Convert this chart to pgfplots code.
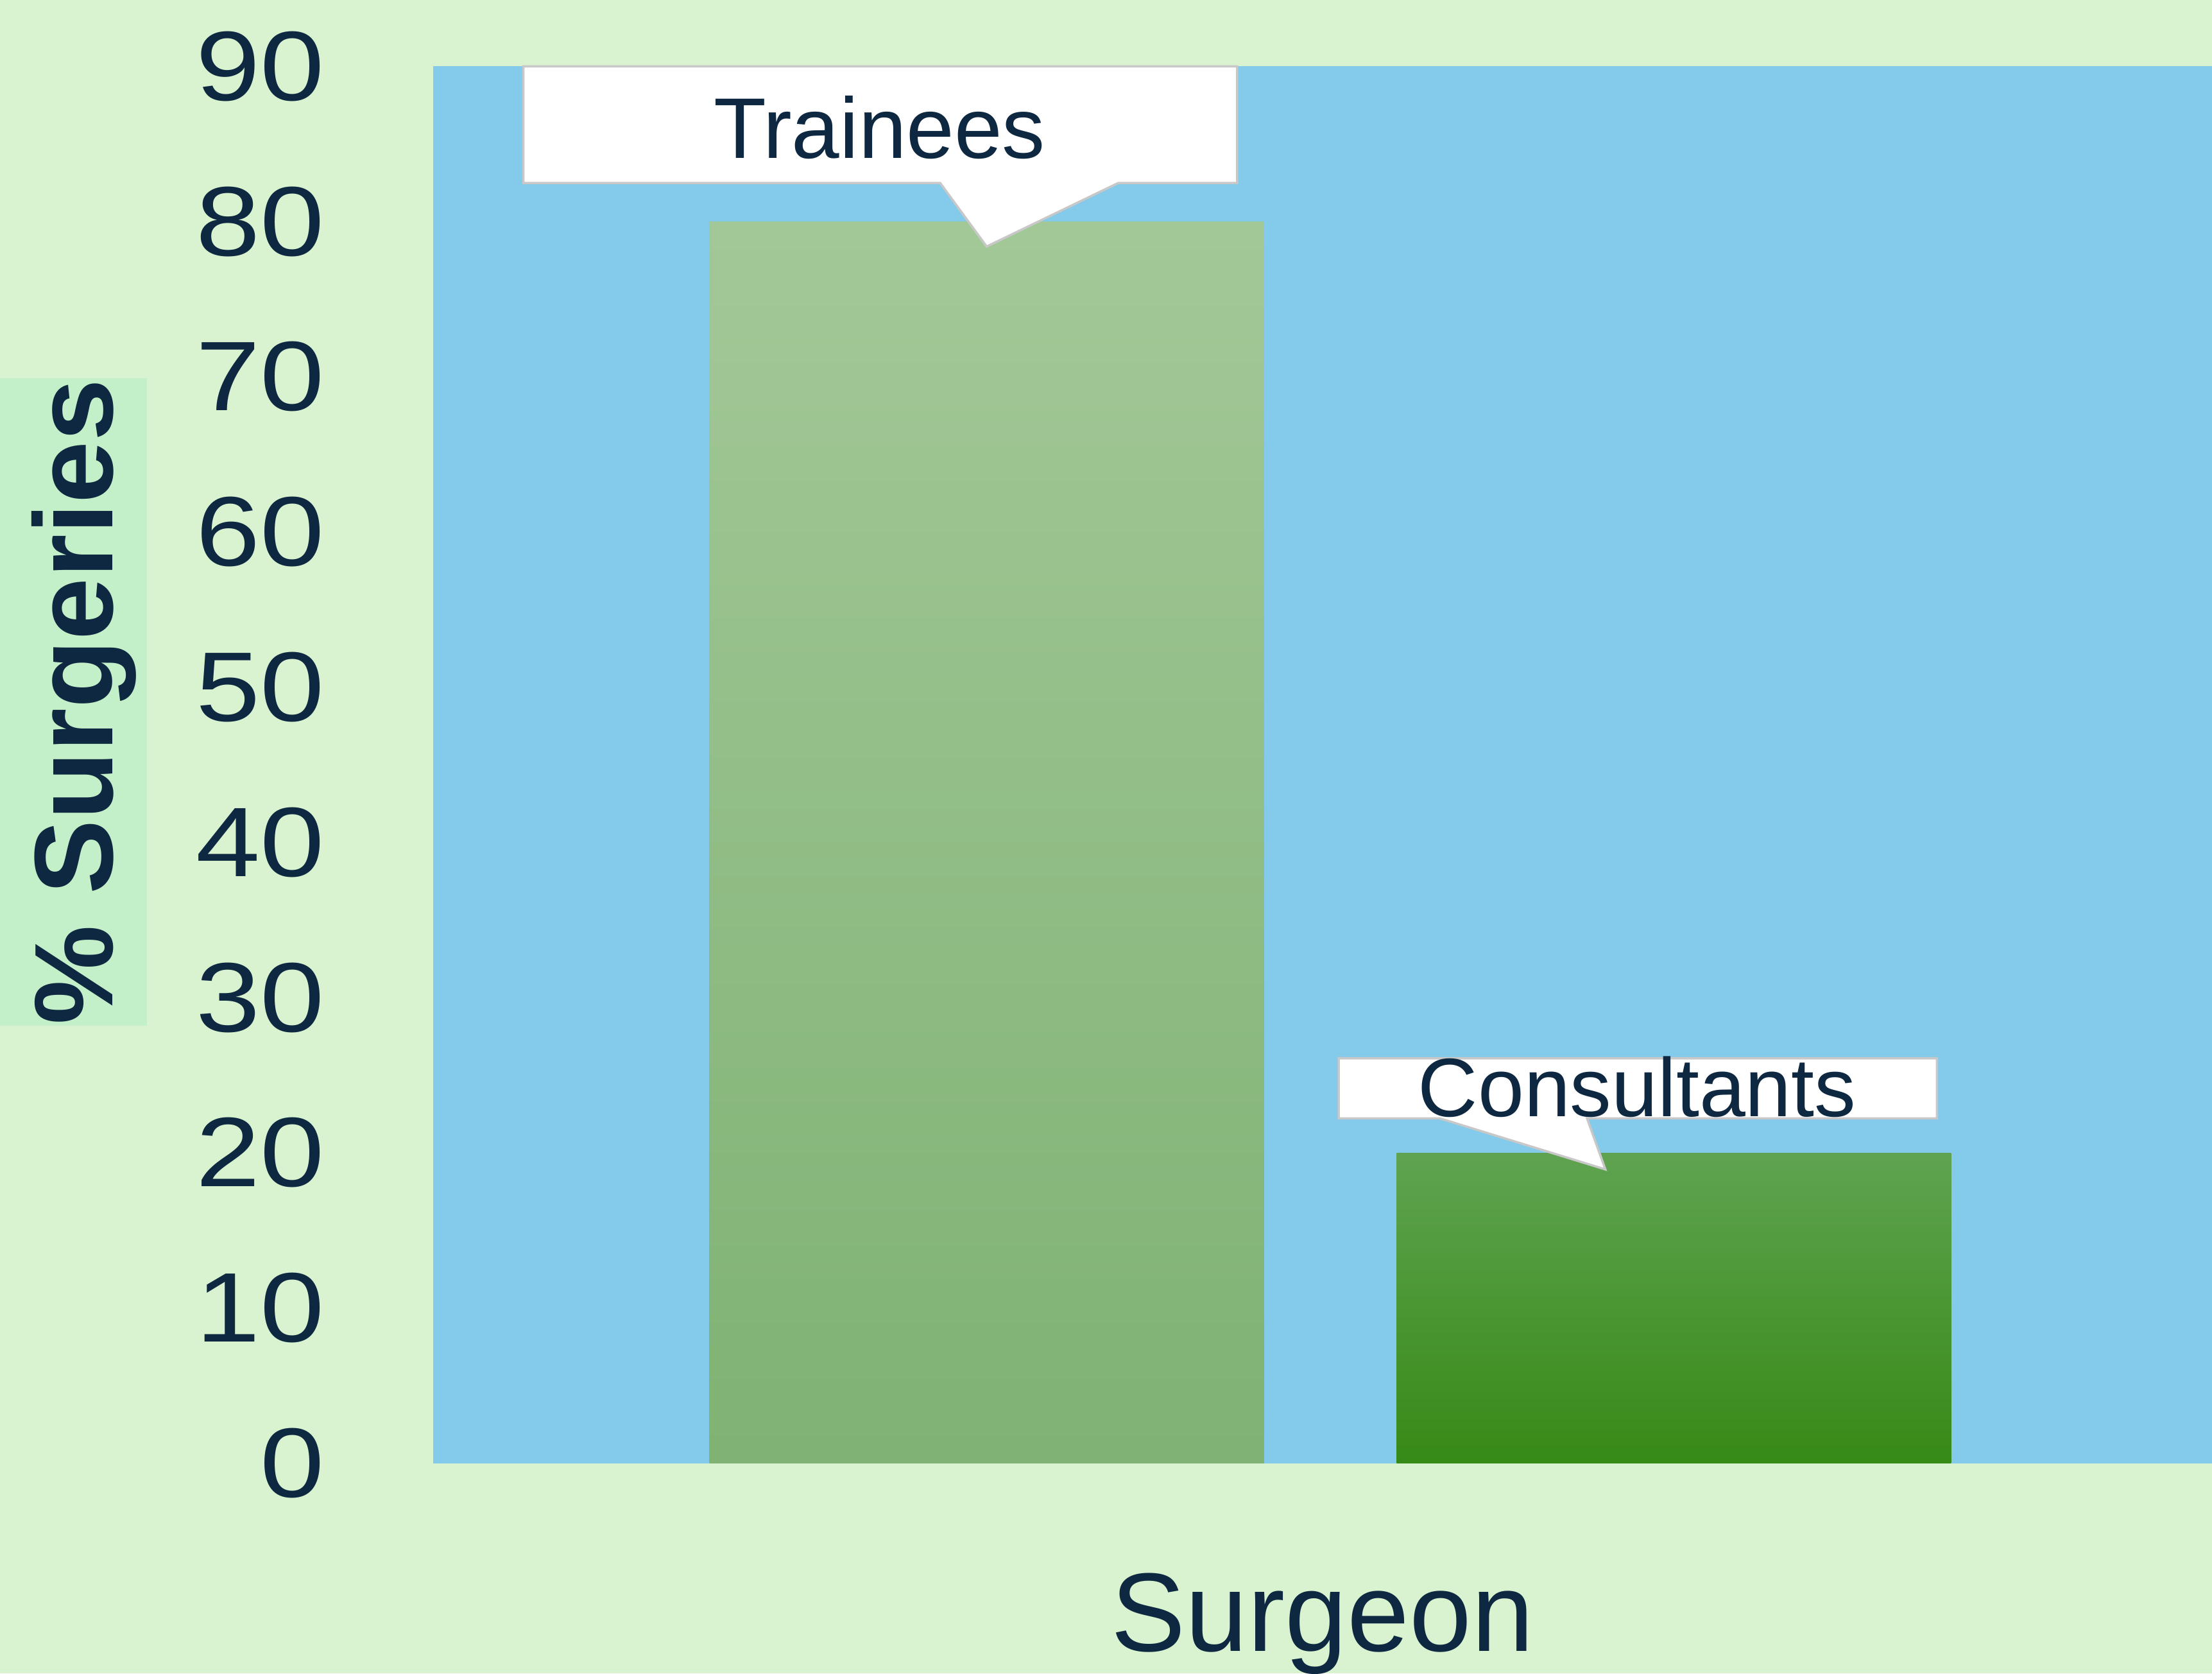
\documentclass[border=0pt]{standalone}
\usepackage{fontspec}
\setmainfont{Liberation Sans}
\newfontfamily\tickfont[FakeStretch=1.17]{Liberation Sans}
\usepackage{pgfplots}
\pgfplotsset{compat=1.18}
\definecolor{bgc}{HTML}{D9F3D0}
\definecolor{plotc}{HTML}{83CAEB}
\definecolor{txtc}{HTML}{0E2841}
\definecolor{ylabc}{HTML}{C4F0C9}
\definecolor{trtop}{HTML}{A3C898}
\definecolor{trbot}{HTML}{7FB273}
\definecolor{cotop}{HTML}{5FA350}
\definecolor{comid}{HTML}{42982A}
\definecolor{cobot}{HTML}{368A16}
\definecolor{callb}{HTML}{C8C8C8}
\begin{document}
\begin{tikzpicture}
\fill[bgc,use as bounding box] (-76.75pt,-37.25pt) rectangle (315.25pt,259.25pt);
\begin{axis}[
  at={(0,0)}, anchor=south west,
  scale only axis, width=315.25pt, height=247.5pt,
  xmin=0, xmax=1261, ymin=0, ymax=90,
  clip=false,
  axis background/.style={fill=plotc},
  axis line style={draw=none},
  major tick length=0pt,
  xtick=\empty,
  ytick={0,10,...,90},
  /pgf/number format/assume math mode=true,
  yticklabel style={font=\tickfont\fontsize{17.5}{20}\selectfont, text=txtc, anchor=east, inner sep=0pt, xshift=-19pt},
  ylabel={\% Surgeries},
  ylabel style={at={(axis description cs:-0.2022,0.545)}, anchor=center, rotate=0,
    font=\bfseries\fontsize{19.8}{24}\selectfont, text=txtc, fill=ylabc,
    minimum width=114.75pt, minimum height=26pt, inner sep=0pt,
    text height=17.8pt, text depth=4pt},
  xlabel={Surgeon},
  xlabel style={at={(axis description cs:0.5,0)}, anchor=base, yshift=-33.25pt,
    font=\fontsize{19.8}{23}\selectfont, text=txtc},
]
\addplot[ybar, bar width=393, bar shift=0pt, draw=none, top color=trtop, bottom color=trbot] coordinates {(392.5,80)};
\addplot[ybar, bar width=393, bar shift=0pt, draw=none, top color=cotop, middle color=comid, bottom color=cobot] coordinates {(879.5,20)};
% callouts
\draw[fill=white, draw=callb, line width=0.4pt]
  (axis cs:64,90) -- (axis cs:570,90) -- (axis cs:570,82.48) -- (axis cs:485.6,82.48)
  -- (axis cs:392.4,78.39) -- (axis cs:359.5,82.48) -- (axis cs:64,82.48) -- cycle;
\node[anchor=base, text=txtc, font=\fontsize{15.25}{18}\selectfont, inner sep=0pt] at (axis cs:316.5,84.09) {Trainees};
\draw[fill=white, draw=callb, line width=0.4pt]
  (axis cs:642,26.09) -- (axis cs:1066,26.09) -- (axis cs:1066,22.22) -- (axis cs:818,22.22)
  -- (axis cs:831,18.93) -- (axis cs:713.6,22.22) -- (axis cs:642,22.22) -- cycle;
\node[anchor=base, text=txtc, font=\fontsize{14.7}{18}\selectfont, inner sep=0pt] at (axis cs:853.5,22.35) {Consultants};
\end{axis}
\end{tikzpicture}
\end{document}
